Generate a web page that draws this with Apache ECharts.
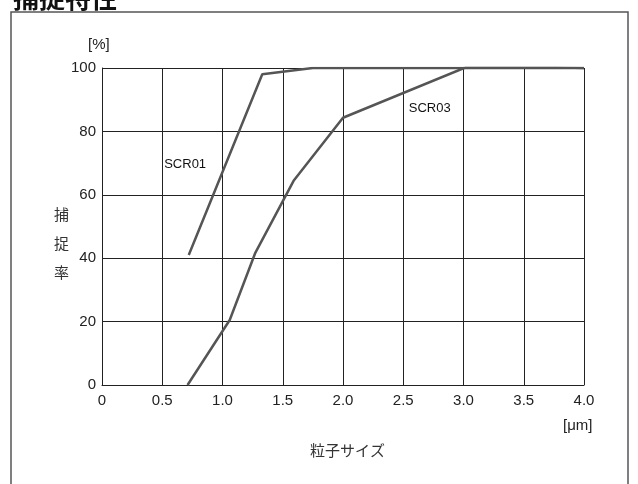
<!DOCTYPE html>
<html><head><meta charset="utf-8">
<script src="https://cdn.jsdelivr.net/npm/echarts@6/dist/echarts.min.js"></script>
<style>html,body{margin:0;padding:0;background:#fff}#c{width:638px;height:484px}</style>
</head><body><div id="c"></div>
<script>
const xTicks = [0, 0.5, 1.0, 1.5, 2.0, 2.5, 3.0, 3.5, 4.0];
const yTicks = [0, 20, 40, 60, 80, 100];
const scr01 = [[0.72, 41], [1.33, 98], [1.75, 100], [4.0, 100]];
const scr03 = [[0.71, 0], [1.06, 20.5], [1.27, 41.5], [1.59, 64.4], [2.0, 84.3], [3.03, 100.4], [3.7, 100.3], [4.0, 100]];
const seriesNames = ['SCR01', 'SCR03'];
const labelPos = [[0.69, 69.7], [2.72, 87.4]];
const title = '捕捉特性';
const yName = '捕\n捉\n率';
const xName = '粒子サイズ';

const font = '"Liberation Sans", Arial, sans-serif';
const chart = echarts.init(document.getElementById('c'));
const lineStyle = {color: '#555', width: 2.5};
chart.setOption({
  animation: false,
  title: {text: title, left: 8, top: -20, textStyle: {fontSize: 26, fontWeight: 'bold', color: '#111', fontFamily: '"Noto Sans CJK JP", sans-serif'}},
  grid: {left: 102, right: 54, top: 68, bottom: 99},
  xAxis: {type: 'value', min: 0, max: 4, interval: 0.5,
    axisLine: {show: true, lineStyle: {color: '#222', width: 1}},
    axisTick: {show: false},
    splitLine: {show: true, lineStyle: {color: '#222', width: 1}},
    axisLabel: {color: '#222', fontSize: 15, fontFamily: font, margin: 8,
      formatter: v => v === 0 ? '0' : v.toFixed(1)}},
  yAxis: {type: 'value', min: 0, max: 100, interval: 20,
    axisLine: {show: true, lineStyle: {color: '#222', width: 1}},
    axisTick: {show: false},
    splitLine: {show: true, lineStyle: {color: '#222', width: 1}},
    axisLabel: {color: '#222', fontSize: 15, fontFamily: font, margin: 6}},
  series: [scr01, scr03].map((d, i) => ({
    name: seriesNames[i], type: 'line', data: d, symbol: 'none',
    lineStyle: lineStyle, z: 3,
    markPoint: {symbol: 'circle', symbolSize: 0, silent: true,
      data: [{coord: labelPos[i], label: {show: true, position: 'inside', formatter: seriesNames[i],
        color: '#111', fontSize: 13, fontFamily: font}}]}
  })),
  graphic: [
    {type: 'rect', shape: {x: 11, y: 12, width: 617, height: 490}, style: {fill: null, stroke: '#555', lineWidth: 1.5}, silent: true},
    {type: 'text', left: 88, top: 37, style: {text: '[%]', fontSize: 15, fontFamily: font, fill: '#222'}},
    {type: 'text', left: 563, top: 418, style: {text: '[μm]', fontSize: 15, fontFamily: font, fill: '#222'}},
    {type: 'text', left: 310, top: 443, style: {text: xName, fontSize: 15, fontFamily: '"Noto Sans CJK JP", sans-serif', fill: '#333'}},
    {type: 'text', left: 54, top: 200, style: {text: yName, fontSize: 15, lineHeight: 29, fontFamily: '"Noto Sans CJK JP", sans-serif', fill: '#333'}}
  ]
});
</script></body></html>
